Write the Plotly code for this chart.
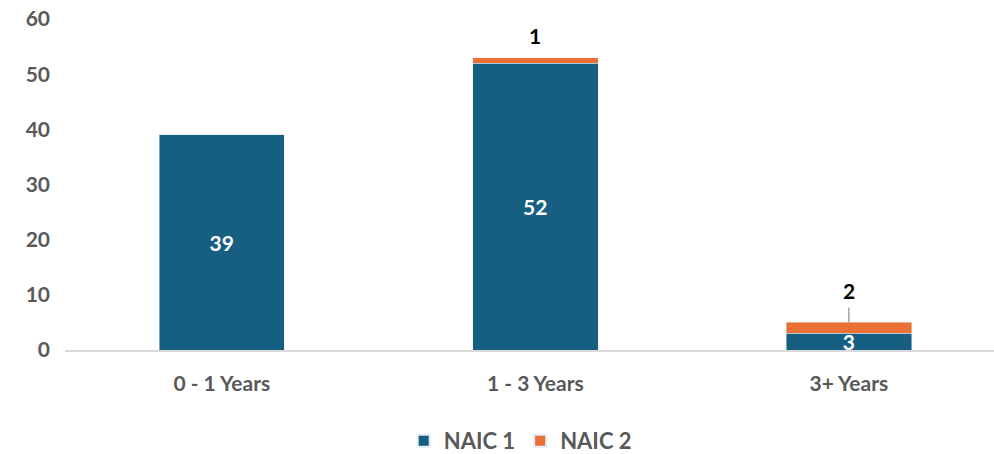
import plotly.graph_objects as go

categories = ["0 - 1 Years", "1 - 3 Years", "3+ Years"]
naic1 = [39, 52, 3]
naic2 = [0, 1, 2]
y_ticks = [0, 10, 20, 30, 40, 50, 60]

BLUE = "#175F81"
ORANGE = "#EA7133"
GREY = "#595959"
FONT = "Lato"

fig = go.Figure()

fig.add_trace(go.Bar(
    name="NAIC 1", x=categories, y=naic1, marker_color=BLUE,
    text=[str(v) for v in naic1], textposition="inside", textangle=0,
    insidetextanchor="middle", constraintext="none",
    textfont=dict(family=FONT, size=21, color="white", weight="bold"),
    hoverinfo="skip",
))
fig.add_trace(go.Bar(
    name="NAIC 2", x=categories, y=naic2, marker_color=ORANGE,
    hoverinfo="skip",
))

# NAIC 2 labels above each stack (with a leader line for the short stack)
for i, (a, b) in enumerate(zip(naic1, naic2)):
    if b == 0:
        continue
    top = a + b
    if top < 10:
        fig.add_annotation(x=categories[i], y=top, text=str(b),
                           showarrow=True, arrowhead=0, arrowwidth=1.5,
                           arrowcolor="#A6A6A6", ax=0, ay=-32, standoff=0,
                           borderpad=4,
                           font=dict(family=FONT, size=21, color="black", weight="bold"))
    else:
        fig.add_annotation(x=categories[i], y=top, text=str(b),
                           showarrow=False, yanchor="bottom", yshift=8,
                           font=dict(family=FONT, size=21, color="black", weight="bold"))

fig.update_layout(
    barmode="stack",
    bargap=0.6,
    width=994, height=454,
    margin=dict(l=65, r=0, t=19, b=104),
    plot_bgcolor="white", paper_bgcolor="white",
    showlegend=True,
    legend=dict(orientation="h", x=0.49, xanchor="center",
                yref="container", y=0.029, yanchor="middle",
                font=dict(family=FONT, size=22, color=GREY, weight="bold"),
                itemsizing="constant", traceorder="normal"),
    xaxis=dict(range=[-0.5, 2.463], showline=True, linecolor="#D9D9D9", linewidth=1.5,
               ticks="", ticklabelstandoff=14,
               tickfont=dict(family=FONT, size=21, color=GREY, weight="bold"),
               fixedrange=True),
    yaxis=dict(range=[0, 60], tickvals=y_ticks, showgrid=False, zeroline=False,
               showline=False, ticks="", ticklabelstandoff=14,
               tickfont=dict(family=FONT, size=21, color=GREY, weight="bold"),
               fixedrange=True),
)

fig.write_html("out.html")
